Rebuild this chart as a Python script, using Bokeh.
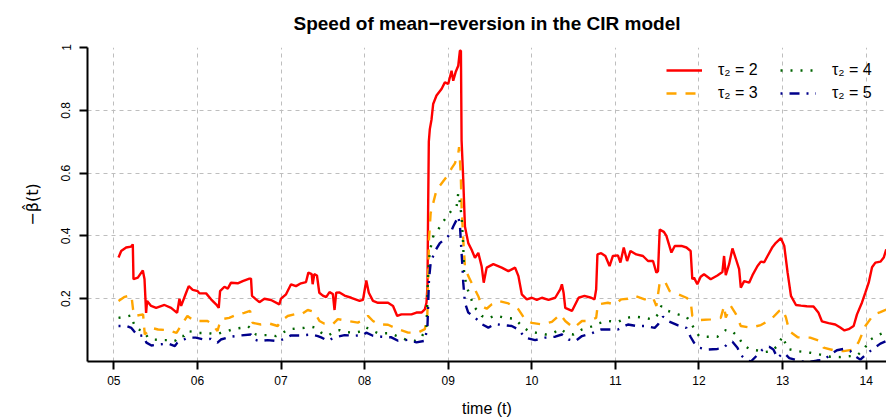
from bokeh.plotting import figure
from bokeh.models import Range1d, FixedTicker, Legend, LegendItem, Title
from bokeh.embed import file_html
from bokeh.resources import INLINE

# ---- data (time in years since 2000) ----
x_ticks = [5, 6, 7, 8, 9, 10, 11, 12, 13, 14]
x_tick_labels = ["05", "06", "07", "08", "09", "10", "11", "12", "13", "14"]
y_ticks = [0.2, 0.4, 0.6, 0.8, 1.0]
y_tick_labels = ["0.2", "0.4", "0.6", "0.8", "1"]

series_names = ["τ₂ = 2", "τ₂ = 3", "τ₂ = 4", "τ₂ = 5"]

t_tau2 = [5.056, 5.088, 5.147, 5.207, 5.227, 5.235, 5.287, 5.347, 5.367, 5.386, 5.398, 5.446, 5.506, 5.606,
          5.685, 5.757, 5.785, 5.805, 5.865, 5.896, 5.944, 6.004, 6.024, 6.104, 6.163, 6.223, 6.255, 6.271,
          6.323, 6.363, 6.402, 6.482, 6.542, 6.622, 6.641, 6.653, 6.701, 6.741, 6.801, 6.88, 6.98, 7.0,
          7.06, 7.12, 7.179, 7.239, 7.299, 7.327, 7.367, 7.378, 7.398, 7.43, 7.458, 7.50, 7.54, 7.58,
          7.62, 7.64, 7.66, 7.70, 7.76, 7.84, 7.94, 7.98, 8.02, 8.05, 8.10, 8.16, 8.28, 8.34, 8.39, 8.44,
          8.56, 8.62, 8.68, 8.72, 8.74, 8.752, 8.76, 8.768, 8.78, 8.80, 8.82, 8.86, 8.92, 8.96, 9.00, 9.04,
          9.06, 9.088, 9.12, 9.14, 9.152, 9.16, 9.18, 9.20, 9.24, 9.28, 9.32, 9.36, 9.40, 9.425, 9.46,
          9.54, 9.64, 9.72, 9.80, 9.84, 9.88, 9.94, 10.0, 10.06, 10.12, 10.20, 10.28, 10.34, 10.36, 10.38,
          10.40, 10.44, 10.48, 10.56, 10.63, 10.71, 10.75, 10.77, 10.785, 10.83, 10.88, 10.93, 10.97,
          11.03, 11.06, 11.10, 11.14, 11.18, 11.25, 11.33, 11.39, 11.45, 11.49, 11.51, 11.53, 11.58,
          11.61, 11.67, 11.71, 11.79, 11.85, 11.90, 11.92, 11.94, 11.98, 12.02, 12.06, 12.14, 12.22,
          12.28, 12.30, 12.32, 12.36, 12.40, 12.44, 12.48, 12.50, 12.54, 12.60, 12.64, 12.70, 12.74,
          12.78, 12.82, 12.88, 12.92, 12.98, 13.02, 13.06, 13.10, 13.16, 13.22, 13.29, 13.37, 13.43,
          13.47, 13.55, 13.63, 13.69, 13.74, 13.79, 13.85, 13.89, 13.95, 13.99, 14.03, 14.07, 14.11,
          14.17, 14.21, 14.24]
beta_tau2 = [0.331, 0.352, 0.363, 0.366, 0.373, 0.262, 0.267, 0.29, 0.262, 0.155, 0.193, 0.177, 0.171, 0.18,
             0.171, 0.155, 0.2, 0.177, 0.219, 0.24, 0.228, 0.224, 0.217, 0.217, 0.198, 0.182, 0.171, 0.224,
             0.238, 0.232, 0.251, 0.249, 0.256, 0.264, 0.264, 0.209, 0.198, 0.189, 0.2, 0.196, 0.182, 0.2,
             0.214, 0.246, 0.24, 0.249, 0.253, 0.283, 0.278, 0.246, 0.278, 0.274, 0.219, 0.21, 0.205, 0.221,
             0.215, 0.164, 0.219, 0.22, 0.21, 0.203, 0.193, 0.196, 0.258, 0.219, 0.193, 0.187, 0.187, 0.177,
             0.145, 0.15, 0.15, 0.156, 0.156, 0.166, 0.187, 0.24, 0.493, 0.70, 0.74, 0.77, 0.82, 0.847, 0.868,
             0.889, 0.884, 0.926, 0.894, 0.921, 0.942, 0.99, 0.99, 0.704, 0.578, 0.43, 0.377, 0.356, 0.33,
             0.346, 0.303, 0.251, 0.299, 0.31, 0.299, 0.288, 0.299, 0.272, 0.214, 0.198, 0.203, 0.196, 0.203,
             0.196, 0.203, 0.23, 0.246, 0.219, 0.171, 0.166, 0.161, 0.203, 0.209, 0.203, 0.198, 0.23, 0.341,
             0.345, 0.336, 0.304, 0.336, 0.338, 0.315, 0.363, 0.32, 0.352, 0.341, 0.336, 0.32, 0.32, 0.283,
             0.288, 0.42, 0.413, 0.40, 0.347, 0.368, 0.368, 0.363, 0.352, 0.262, 0.267, 0.246, 0.27, 0.278,
             0.262, 0.274, 0.285, 0.336, 0.275, 0.31, 0.36, 0.328, 0.294, 0.235, 0.256, 0.251, 0.275, 0.304,
             0.318, 0.316, 0.336, 0.365, 0.378, 0.393, 0.368, 0.283, 0.209, 0.18, 0.178, 0.176, 0.175, 0.155,
             0.128, 0.122, 0.118, 0.108, 0.099, 0.103, 0.113, 0.15, 0.188, 0.219, 0.251, 0.3, 0.315, 0.318,
             0.331, 0.357]

t_tau3 = [5.056, 5.13, 5.21, 5.23, 5.25, 5.35, 5.37, 5.45, 5.53, 5.65, 5.75, 5.80, 5.88, 5.96, 6.04, 6.12,
          6.18, 6.24, 6.28, 6.38, 6.48, 6.56, 6.63, 6.66, 6.76, 6.86, 6.96, 7.0, 7.08, 7.16, 7.24, 7.32,
          7.40, 7.46, 7.52, 7.62, 7.68, 7.80, 7.92, 8.0, 8.04, 8.10, 8.16, 8.28, 8.40, 8.52, 8.64, 8.72,
          8.75, 8.77, 8.79, 8.82, 8.86, 8.92, 8.98, 9.04, 9.08, 9.12, 9.13, 9.15, 9.16, 9.18, 9.20, 9.24,
          9.32, 9.36, 9.40, 9.46, 9.52, 9.60, 9.72, 9.84, 9.92, 10.0, 10.12, 10.24, 10.34, 10.40, 10.50,
          10.60, 10.67, 10.77, 10.79, 10.91, 10.99, 11.07, 11.15, 11.23, 11.35, 11.45, 11.49, 11.53, 11.59,
          11.65, 11.75, 11.85, 11.90, 11.92, 12.02, 12.14, 12.26, 12.30, 12.32, 12.38, 12.44, 12.50, 12.62,
          12.74, 12.86, 12.96, 13.0, 13.04, 13.08, 13.18, 13.33, 13.45, 13.49, 13.61, 13.73, 13.85, 13.91,
          13.99, 14.09, 14.17, 14.24]
beta_tau3 = [0.193, 0.206, 0.211, 0.166, 0.145, 0.15, 0.086, 0.107, 0.102, 0.10, 0.091, 0.113, 0.145, 0.129,
             0.129, 0.129, 0.118, 0.097, 0.134, 0.139, 0.15, 0.155, 0.161, 0.123, 0.118, 0.121, 0.113, 0.129,
             0.145, 0.15, 0.15, 0.164, 0.158, 0.129, 0.12, 0.119, 0.135, 0.129, 0.124, 0.135, 0.145, 0.129,
             0.119, 0.117, 0.103, 0.092, 0.092, 0.103, 0.145, 0.388, 0.472, 0.504, 0.546, 0.567, 0.588,
             0.615, 0.631, 0.662, 0.683, 0.599, 0.493, 0.388, 0.303, 0.272, 0.229, 0.208, 0.177, 0.168,
             0.182, 0.193, 0.185, 0.166, 0.134, 0.123, 0.118, 0.126, 0.15, 0.129, 0.107, 0.129, 0.129, 0.139,
             0.182, 0.187, 0.182, 0.198, 0.2, 0.209, 0.198, 0.203, 0.177, 0.251, 0.256, 0.224, 0.214, 0.203,
             0.193, 0.145, 0.132, 0.134, 0.139, 0.177, 0.14, 0.177, 0.152, 0.113, 0.108, 0.116, 0.134, 0.161,
             0.166, 0.14, 0.097, 0.077, 0.076, 0.065, 0.044, 0.036, 0.033, 0.038, 0.062, 0.113, 0.15, 0.157,
             0.165]

t_tau4 = [5.056, 5.13, 5.21, 5.23, 5.27, 5.35, 5.41, 5.47, 5.59, 5.69, 5.73, 5.78, 5.84, 5.88, 5.94, 6.02,
          6.12, 6.22, 6.28, 6.36, 6.44, 6.52, 6.60, 6.64, 6.70, 6.78, 6.86, 6.94, 7.01, 7.08, 7.18, 7.28,
          7.36, 7.42, 7.48, 7.56, 7.62, 7.70, 7.76, 7.88, 7.98, 8.02, 8.08, 8.16, 8.30, 8.38, 8.48, 8.60,
          8.68, 8.74, 8.76, 8.78, 8.82, 8.88, 8.94, 9.0, 9.06, 9.10, 9.12, 9.14, 9.16, 9.18, 9.19, 9.22,
          9.26, 9.32, 9.40, 9.48, 9.56, 9.68, 9.80, 9.88, 9.96, 10.06, 10.16, 10.26, 10.34, 10.42, 10.50,
          10.60, 10.71, 10.79, 10.91, 11.03, 11.13, 11.23, 11.35, 11.45, 11.51, 11.55, 11.63, 11.75, 11.85,
          11.90, 12.0, 12.10, 12.22, 12.32, 12.38, 12.46, 12.54, 12.62, 12.70, 12.78, 12.86, 12.94, 13.0,
          13.06, 13.18, 13.33, 13.45, 13.57, 13.69, 13.81, 13.89, 13.97, 14.05, 14.15, 14.24]
beta_tau4 = [0.139, 0.142, 0.147, 0.126, 0.104, 0.097, 0.076, 0.07, 0.068, 0.068, 0.065, 0.081, 0.081, 0.097,
             0.095, 0.091, 0.091, 0.086, 0.091, 0.097, 0.104, 0.107, 0.113, 0.105, 0.086, 0.084, 0.084, 0.081,
             0.089, 0.102, 0.105, 0.107, 0.111, 0.107, 0.092, 0.082, 0.092, 0.10, 0.094, 0.092, 0.097, 0.108,
             0.10, 0.09, 0.09, 0.082, 0.071, 0.066, 0.077, 0.108, 0.282, 0.351, 0.398, 0.42, 0.446, 0.467,
             0.488, 0.493, 0.536, 0.504, 0.462, 0.367, 0.282, 0.24, 0.208, 0.171, 0.145, 0.137, 0.147, 0.139,
             0.136, 0.113, 0.097, 0.091, 0.086, 0.091, 0.104, 0.089, 0.086, 0.102, 0.111, 0.121, 0.129, 0.126,
             0.139, 0.143, 0.139, 0.134, 0.15, 0.177, 0.161, 0.15, 0.143, 0.123, 0.081, 0.079, 0.079, 0.10,
             0.10, 0.081, 0.05, 0.038, 0.035, 0.03, 0.032, 0.05, 0.08, 0.04, 0.033, 0.028, 0.022, 0.015,
             0.014, 0.017, 0.019, 0.038, 0.07, 0.085, 0.095]

t_tau5 = [5.056, 5.15, 5.21, 5.24, 5.29, 5.35, 5.39, 5.45, 5.53, 5.65, 5.73, 5.76, 5.84, 5.88, 5.98, 6.08,
          6.16, 6.24, 6.28, 6.40, 6.52, 6.64, 6.68, 6.74, 6.84, 6.96, 7.04, 7.12, 7.24, 7.36, 7.44, 7.48,
          7.56, 7.64, 7.76, 7.88, 7.98, 8.02, 8.10, 8.20, 8.32, 8.40, 8.52, 8.62, 8.72, 8.752, 8.77, 8.79,
          8.84, 8.90, 8.96, 9.02, 9.06, 9.10, 9.12, 9.14, 9.15, 9.17, 9.18, 9.20, 9.24, 9.32, 9.40, 9.48,
          9.56, 9.66, 9.76, 9.84, 9.92, 10.04, 10.16, 10.28, 10.36, 10.44, 10.52, 10.60, 10.71, 10.83,
          10.93, 11.03, 11.15, 11.25, 11.35, 11.47, 11.51, 11.57, 11.63, 11.75, 11.85, 11.90, 11.94, 12.0,
          12.10, 12.22, 12.30, 12.34, 12.40, 12.46, 12.50, 12.56, 12.62, 12.70, 12.76, 12.84, 12.89, 12.94,
          12.98, 13.02, 13.08, 13.18, 13.29, 13.41, 13.49, 13.57, 13.65, 13.73, 13.81, 13.87, 13.93, 13.99,
          14.07, 14.17, 14.24]
beta_tau5 = [0.113, 0.113, 0.107, 0.097, 0.081, 0.083, 0.06, 0.051, 0.054, 0.057, 0.049, 0.06, 0.07, 0.076,
             0.076, 0.07, 0.072, 0.06, 0.07, 0.079, 0.083, 0.086, 0.07, 0.065, 0.068, 0.065, 0.072, 0.083,
             0.083, 0.086, 0.081, 0.077, 0.066, 0.077, 0.084, 0.082, 0.084, 0.092, 0.082, 0.079, 0.077, 0.066,
             0.069, 0.061, 0.066, 0.113, 0.261, 0.314, 0.351, 0.377, 0.39, 0.404, 0.43, 0.451, 0.462, 0.435,
             0.388, 0.303, 0.251, 0.187, 0.156, 0.14, 0.119, 0.108, 0.119, 0.116, 0.113, 0.102, 0.076, 0.068,
             0.076, 0.079, 0.086, 0.07, 0.065, 0.081, 0.089, 0.102, 0.102, 0.102, 0.118, 0.113, 0.113, 0.107,
             0.118, 0.143, 0.129, 0.115, 0.107, 0.078, 0.06, 0.044, 0.038, 0.04, 0.044, 0.057, 0.063, 0.044,
             0.021, 0.005, 0.0, 0.021, 0.038, 0.047, 0.038, 0.011, 0.021, 0.027, 0.011, 0.003, -0.003, 0.003,
             0.005, 0.021, 0.036, 0.04, 0.033, 0.017, 0.006, 0.021, 0.038, 0.057, 0.065]

title_text = "Speed of mean\u2212reversion in the CIR model"
FONT = "Liberation Sans"

p = figure(width=886, height=420, output_backend="svg", toolbar_location=None,
           x_range=Range1d(4.685, 14.243), y_range=Range1d(0, 1),
           min_border_left=87, min_border_right=0, min_border_top=47, min_border_bottom=59,
           background_fill_color="white", border_fill_color="white")
p.outline_line_color = None

p.add_layout(Title(text=title_text, align="center", vertical_align="top", text_font=FONT,
                   text_font_size="19px", text_font_style="bold", text_color="black",
                   standoff=23), "above")

# axes
p.xaxis.ticker = FixedTicker(ticks=x_ticks)
p.xaxis.major_label_overrides = dict(zip(x_ticks, x_tick_labels))
p.yaxis.ticker = FixedTicker(ticks=y_ticks)
p.yaxis.major_label_overrides = dict(zip(y_ticks, y_tick_labels))
p.yaxis.major_label_orientation = "vertical"
for ax in (p.xaxis[0], p.yaxis[0]):
    ax.axis_line_color = "black"
    ax.axis_line_width = 2
    ax.major_tick_line_color = "black"
    ax.major_tick_line_width = 2
    ax.major_tick_out = 8
    ax.major_tick_in = 0
    ax.minor_tick_line_color = None
    ax.major_label_text_font = FONT
    ax.major_label_text_font_size = "12px"
    ax.major_label_text_color = "black"
    ax.axis_label_text_font = FONT
    ax.axis_label_text_font_size = "16px"
    ax.axis_label_text_font_style = "normal"
    ax.axis_label_text_color = "black"
p.xaxis.axis_label = "time (t)"
p.xaxis.major_label_standoff = 6
p.xaxis.axis_label_standoff = 12
p.yaxis.axis_label = "\u2212\u03b2\u0302(t)"
p.yaxis.axis_label_text_font = "DejaVu Sans"
p.yaxis.major_label_standoff = 9
p.yaxis.axis_label_standoff = 17

for g in (p.xgrid[0], p.ygrid[0]):
    g.grid_line_color = "#bebebe"
    g.grid_line_dash = "4 4"
    g.grid_line_width = 1

r2 = p.line(t_tau2, beta_tau2, line_color="#ff0000", line_width=2.4)
r3 = p.line(t_tau3, beta_tau3, line_color="#ffa500", line_width=2.4, line_dash="10 9")
r4 = p.line(t_tau4, beta_tau4, line_color="#006400", line_width=2.4, line_dash="2 8")
r5 = p.line(t_tau5, beta_tau5, line_color="#00008b", line_width=2.4, line_dash="2 7 10 7")

def make_legend(items, loc):
    leg = Legend(items=items, location=loc, orientation="vertical",
                 padding=0, margin=0, spacing=3, glyph_width=36, glyph_height=20,
                 label_height=20, label_standoff=16,
                 label_text_font=FONT, label_text_font_size="16px", label_text_color="black",
                 border_line_color=None, background_fill_alpha=0)
    return leg

leg1 = make_legend([LegendItem(label=series_names[0], renderers=[r2]),
                    LegendItem(label=series_names[1], renderers=[r3])], (579, 258))
leg2 = make_legend([LegendItem(label=series_names[2], renderers=[r4]),
                    LegendItem(label=series_names[3], renderers=[r5])], (693, 258))
p.add_layout(leg1)
p.add_layout(leg2)

open("out.html", "w").write(file_html(p, INLINE))
